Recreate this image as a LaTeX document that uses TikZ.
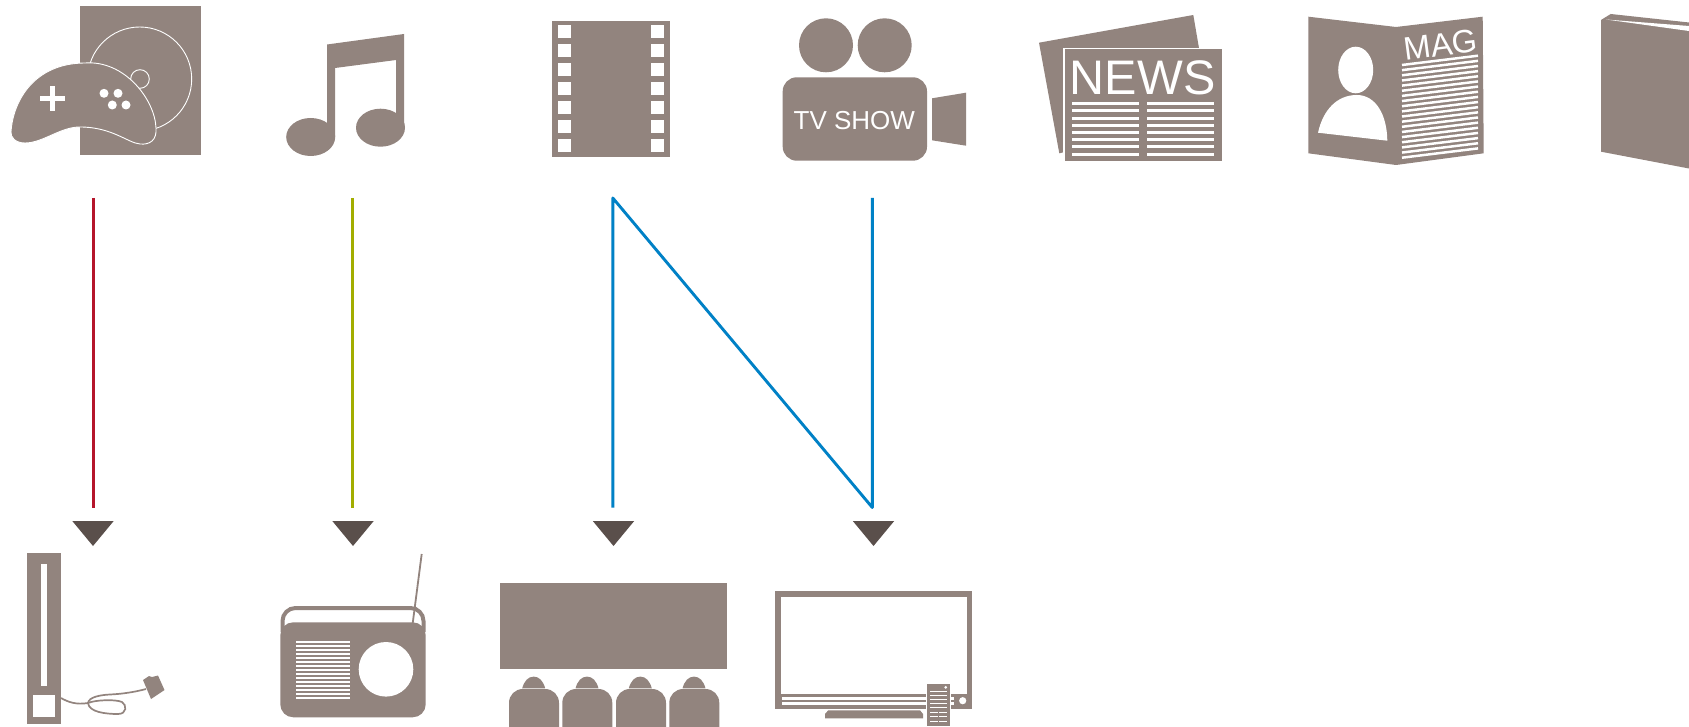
\documentclass[tikz,border=0pt]{standalone}
\usepackage{fontspec}
\setmainfont{Liberation Sans}
\definecolor{icongray}{HTML}{92847E}
\definecolor{tipgray}{HTML}{5A4F4B}
\definecolor{linkred}{HTML}{B5152B}
\definecolor{linkgreen}{HTML}{A2AD00}
\definecolor{linkblue}{HTML}{0081C6}
\tikzset{
  ico/.style={fill=icongray,draw=none},
  hole/.style={fill=white,draw=none},
  link/.style={line width=2.9pt},
  tiptri/.style={fill=tipgray,draw=none},
  label/.style={text=white,inner sep=0pt,anchor=base}
}
\begin{document}
\begin{tikzpicture}[x=1pt,y=-1pt]
\useasboundingbox (0,0) rectangle (1689,727);
\fill[white] (0,0) rectangle (1689,727);
% anchors of connectors
\coordinate (gameOut) at (93.5,198);
\coordinate (musicOut) at (352.3,198);
\coordinate (filmOut) at (612.8,198);
\coordinate (showOut) at (872.3,198);
\coordinate (wiiIn) at (93.5,507.5);
\coordinate (radioIn) at (352.3,507.5);
\coordinate (cinemaIn) at (612.8,507.5);
\coordinate (tvIn) at (872.3,507.5);
% connectors
\draw[link,linkred] (gameOut) -- (wiiIn);
\draw[link,linkgreen] (musicOut) -- (radioIn);
\draw[link,linkblue,line join=round] (cinemaIn) -- (filmOut) -- (tvIn) -- (showOut);
% triangles
\foreach \c in {93,353,613.5,873.5}
  \fill[tiptri] (\c-20.7,521) -- (\c+20.7,521) -- (\c,546) -- cycle;
% game icon
\fill[ico] (80,6) rectangle (201,155);
\draw[white,line width=.9pt] (139.7,79) circle (52);
\draw[white,line width=.9pt] (140,79) circle (9.3);
\filldraw[fill=icongray,draw=white,line width=.9pt] (11,132) .. controls (13,100) and (35,63) .. (85,63) .. controls (125,60) and (155,100) .. (156,128) .. controls (157,140) and (150,145) .. (140,144) .. controls (128,143) and (112,127) .. (80,127) .. controls (60,127) and (43,143) .. (25,143) .. controls (15,143) and (10.5,137) .. (11,132) -- cycle;
\fill[hole] (40,95.8) rectangle (65,100.8);
\fill[hole] (50,86) rectangle (55,111);
\foreach \x/\y in {104/93.3,118/93.3,112.3/105,126/105}
  \fill[hole] (\x,\y) circle (4.5);
% music icon
\fill[ico] (327,44.5) -- (404,34) -- (404,128) -- (396,128) -- (396,60) -- (335,68) -- (335,137) -- (327,137) -- cycle;
\fill[ico] (310.7,137) ellipse [x radius=24.5,y radius=19];
\fill[ico] (380.5,127.7) ellipse [x radius=24.5,y radius=19];
% film icon
\fill[ico] (552,21) rectangle (670,156.7);
\foreach \i in {0,...,6}{
  \fill[hole] (558,25+19*\i) rectangle (571,38+19*\i);
  \fill[hole] (651,25+19*\i) rectangle (664,38+19*\i);
}
% tv show icon
\fill[ico] (826,45.3) circle (27);
\fill[ico] (884.7,45.3) circle (27);
\fill[ico,rounded corners=14pt] (782.7,77.3) rectangle (927,160.7);
\fill[ico] (932,98.3) -- (966,92.7) -- (966,145.7) -- (932,140.3) -- cycle;
\node[label,font=\fontsize{26}{26}\selectfont] (showText) at (854.3,129.3) {TV SHOW};
% news icon
\fill[ico] (1039,42.7) -- (1193.3,15) -- (1199.3,50) -- (1063.3,50) -- (1063.3,152.3) -- (1059.3,153.3) -- cycle;
\fill[white] (1063.3,47.8) rectangle (1222,161);
\fill[ico] (1065,49) rectangle (1222,160.7);
\node[label,font=\fontsize{48.5}{48.5}\selectfont] (newsText) at (1142.7,94.3) {NEWS};
\foreach \y in {103.7,110.3,118.3,125.7,132.3,139.7,146.3,154.7}{
  \fill[hole] (1072,\y-1.5) rectangle (1139.3,\y+1.5);
  \fill[hole] (1147,\y-1.5) rectangle (1214,\y+1.5);
}
% magazine icon
\fill[ico] (1308.3,16.7) -- (1396,27) -- (1482.7,16.7) -- (1483.7,153.3) -- (1396,165) -- (1308.3,153.3) -- cycle;
\fill[hole] (1355.7,70) ellipse [x radius=17.5,y radius=23.3];
\fill[hole] (1318,132.7) .. controls (1323,110) and (1337,95) .. (1356.7,95) .. controls (1376,95) and (1387,115) .. (1387.3,140.7) -- cycle;
\node[label,anchor=base west,rotate=7.5,font=\fontsize{32.5}{32.5}\selectfont] (magText) at (1405,61) {MAG};
\foreach \i in {0,...,18}
  \draw[white,line width=2.5pt] (1402,65+5.15*\i) -- (1478,55.7+5.15*\i);
% book icon
\fill[ico] (1601,20) -- (1610.7,14) -- (1689,22.5) -- (1689,168.5) -- (1601,151.7) -- cycle;
\fill[hole] (1606,19.5) -- (1689,26) -- (1689,31) -- cycle;
% wii icon
\fill[ico] (27,553) rectangle (61,723.7);
\fill[hole] (41,564) rectangle (47,686);
\fill[hole] (33,695) rectangle (55,717);
\draw[icongray,line width=1.7pt] (61,698) .. controls (68,702) and (76,705) .. (88,703) .. controls (89,697) and (100,695) .. (110,694.5) .. controls (122,694) and (135,692) .. (146,689);
\draw[icongray,line width=1.7pt] (88,703) .. controls (89,712) and (105,714) .. (118,714) .. controls (127,714) and (127,705) .. (122,702) .. controls (115,699) and (95,700) .. (88,703);
\fill[ico] (143,680) -- (149,676) -- (152,677) -- (158,675.5) -- (164.5,690) -- (151,699) -- cycle;
% radio icon
\draw[icongray,line width=1.8pt] (421.7,554) -- (412.7,623.3);
\draw[icongray,line width=4pt,rounded corners=13pt] (282.5,632) -- (282.5,608) -- (423.5,608) -- (423.5,632);
\fill[ico,rounded corners=13pt] (280.3,622.3) rectangle (425.7,717.3);
\foreach \i in {0,...,14}
  \fill[hole] (296,641+4.03*\i) rectangle (350,643+4.03*\i);
\fill[hole] (386,669.3) circle (27.3);
% cinema icon
\fill[ico] (500,583) rectangle (727,669);
\foreach \x/\h in {509/533.7,562.3/587,616/640.3,669.3/694}{
  \fill[ico] (\x,727) -- (\x,703) .. controls (\x,695) and (\x+6,689) .. (\x+14,689) -- (\x+36,689) .. controls (\x+44,689) and (\x+50,695) .. (\x+50,703) -- (\x+50,727) -- cycle;
  \fill[ico] (\h-11.5,688.3) .. controls (\h-9.5,681) and (\h-5.5,676.6) .. (\h,676.6) .. controls (\h+5.5,676.6) and (\h+9.5,681) .. (\h+11.5,688.3) -- cycle;
}
% tv icon
\fill[ico] (775,591) rectangle (972,709);
\fill[hole] (781,597) rectangle (967,694);
\fill[hole] (781.7,697.3) rectangle (954,700);
\fill[hole] (781.7,702) rectangle (954,704.7);
\fill[hole] (962.7,700.7) circle (3.6);
\fill[ico] (828.3,710.3) -- (920,710.3) -- (923,714) -- (923,718.3) -- (825,718.3) -- (825,714) -- cycle;
\fill[white] (925.7,683) rectangle (951,727);
\fill[ico] (927,684) rectangle (950,726);
\fill[hole] (945.7,687.3) circle (1.5);
\foreach \y in {691,695,699,703,707}
  \fill[hole] (930,\y-.5) rectangle (947.3,\y+.5);
\foreach \y in {712.3,716.7,721}{
  \fill[hole] (930,\y-.5) rectangle (938,\y+.5);
  \fill[hole] (939.3,\y-.5) rectangle (947.3,\y+.5);
}
\end{tikzpicture}
\end{document}
